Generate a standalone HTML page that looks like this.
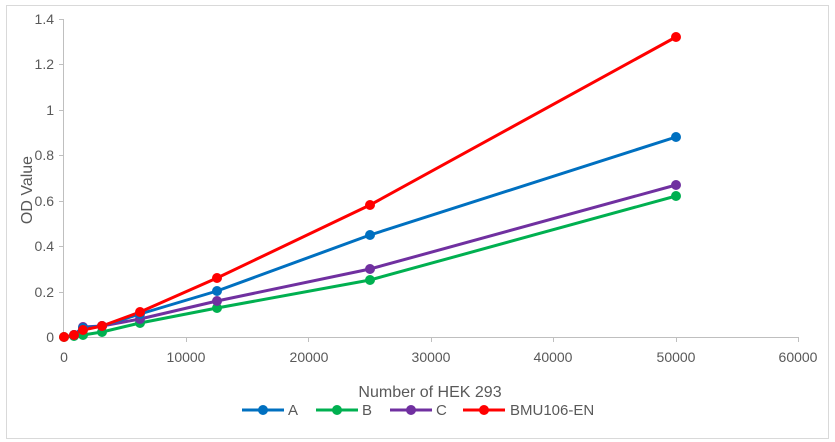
<!DOCTYPE html>
<html><head><style>body{margin:0;background:#fff}svg{display:block}</style></head><body>
<svg width="835" height="442" xmlns="http://www.w3.org/2000/svg" font-family="Liberation Sans, sans-serif" fill="#595959">
<rect x="6.5" y="5.5" width="822" height="433" fill="#fff" stroke="#d9d9d9"/>
<g stroke="#bfbfbf" stroke-width="1">
<line x1="63.5" y1="19" x2="63.5" y2="337"/>
<line x1="63" y1="337.5" x2="798" y2="337.5"/>
<line x1="59" y1="19.5" x2="63" y2="19.5"/><line x1="59" y1="64.5" x2="63" y2="64.5"/><line x1="59" y1="110.5" x2="63" y2="110.5"/><line x1="59" y1="155.5" x2="63" y2="155.5"/><line x1="59" y1="201.5" x2="63" y2="201.5"/><line x1="59" y1="246.5" x2="63" y2="246.5"/><line x1="59" y1="292.5" x2="63" y2="292.5"/><line x1="59" y1="337.5" x2="63" y2="337.5"/>
<line x1="186.5" y1="337" x2="186.5" y2="342"/><line x1="308.5" y1="337" x2="308.5" y2="342"/><line x1="431.5" y1="337" x2="431.5" y2="342"/><line x1="553.5" y1="337" x2="553.5" y2="342"/><line x1="676.5" y1="337" x2="676.5" y2="342"/><line x1="798.5" y1="337" x2="798.5" y2="342"/>
</g>
<g font-size="14" text-anchor="end">
<text x="54" y="24">1.4</text><text x="54" y="69">1.2</text><text x="54" y="115">1</text><text x="54" y="160">0.8</text><text x="54" y="206">0.6</text><text x="54" y="251">0.4</text><text x="54" y="297">0.2</text><text x="54" y="342">0</text>
</g>
<g font-size="14" text-anchor="middle">
<text x="64" y="362">0</text><text x="186" y="362">10000</text><text x="309" y="362">20000</text><text x="431" y="362">30000</text><text x="553" y="362">40000</text><text x="676" y="362">50000</text><text x="798" y="362">60000</text>
<text x="430" y="397" font-size="16">Number of HEK 293</text>
<text transform="translate(32,190) rotate(-90)" font-size="16">OD Value</text>
</g>
<g stroke-width="3" fill="none" stroke-linejoin="round">
<polyline stroke="#00b050" points="64,337 74,336 83,335 102,332 140,323 217,308 370,280 676,196"/>
<polyline stroke="#7030a0" points="64,337 74,335 83,327 102,326 140,319 217,301 370,269 676,185"/>
<polyline stroke="#0070c0" points="64,337 74,335 83,328 102,326 140,314 217,291 370,235 676,137"/>
<polyline stroke="#ff0000" points="64,337 74,335 83,330 102,326 140,312 217,278 370,205 676,37"/>
</g>
<g fill="#00b050"><circle cx="64" cy="337" r="5"/><circle cx="74" cy="336" r="5"/><circle cx="83" cy="335" r="5"/><circle cx="102" cy="332" r="5"/><circle cx="140" cy="323" r="5"/><circle cx="217" cy="308" r="5"/><circle cx="370" cy="280" r="5"/><circle cx="676" cy="196" r="5"/></g>
<g fill="#7030a0"><circle cx="74" cy="335" r="5"/><circle cx="83" cy="327" r="5"/><circle cx="102" cy="326" r="5"/><circle cx="140" cy="319" r="5"/><circle cx="217" cy="301" r="5"/><circle cx="370" cy="269" r="5"/><circle cx="676" cy="185" r="5"/></g>
<g fill="#0070c0"><circle cx="74" cy="335" r="5"/><circle cx="83" cy="328" r="5"/><circle cx="102" cy="326" r="5"/><circle cx="140" cy="314" r="5"/><circle cx="217" cy="291" r="5"/><circle cx="370" cy="235" r="5"/><circle cx="676" cy="137" r="5"/></g>
<g fill="#ff0000"><circle cx="64" cy="337" r="5"/><circle cx="74" cy="335" r="5"/><circle cx="83" cy="330" r="5"/><circle cx="102" cy="326" r="5"/><circle cx="140" cy="312" r="5"/><circle cx="217" cy="278" r="5"/><circle cx="370" cy="205" r="5"/><circle cx="676" cy="37" r="5"/></g>
<g stroke-width="3">
<line x1="242" y1="410" x2="284" y2="410" stroke="#0070c0"/><circle cx="263" cy="410" r="5" fill="#0070c0"/>
<line x1="316" y1="410" x2="358" y2="410" stroke="#00b050"/><circle cx="337" cy="410" r="5" fill="#00b050"/>
<line x1="390" y1="410" x2="432" y2="410" stroke="#7030a0"/><circle cx="411" cy="410" r="5" fill="#7030a0"/>
<line x1="463" y1="410" x2="505" y2="410" stroke="#ff0000"/><circle cx="484" cy="410" r="5" fill="#ff0000"/>
</g>
<g font-size="15"><text x="288" y="415">A</text><text x="362" y="415">B</text><text x="436" y="415">C</text><text x="510" y="415">BMU106-EN</text></g>
</svg>
</body></html>
